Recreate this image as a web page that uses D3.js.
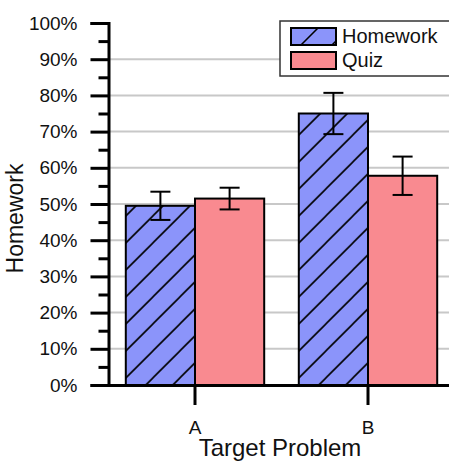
<!DOCTYPE html>
<html>
<head>
<meta charset="utf-8">
<script src="https://cdn.jsdelivr.net/npm/d3@7"></script>
<style>
  html, body { margin:0; padding:0; background:#fff; }
  svg { display:block; font-family:"Liberation Sans", Arial, sans-serif; }
</style>
</head>
<body>
<svg id="chart" width="449" height="462"></svg>
<script>
const categories = ["A","B"];
const series = ["Homework","Quiz"];
const homework = [0.495, 0.75];
const homeworkErr = [0.039, 0.057];
const quiz = [0.515, 0.578];
const quizErr = [0.030, 0.053];
const yTicks = [0,0.1,0.2,0.3,0.4,0.5,0.6,0.7,0.8,0.9,1.0];
const yMinor = [0.05,0.15,0.25,0.35,0.45,0.55,0.65,0.75,0.85,0.95];
const gridTicks = [0.1,0.2,0.3,0.4,0.5,0.6,0.7,0.8,0.9];

const COLOR = { Homework:"#8b94fa", Quiz:"#f98a90" };

const W = 449, H = 462;
const axisX = 108.5, axisY = 385;

const svg = d3.select("#chart");

const rows = categories.map((c,i)=>({
  cat:c,
  vals:[
    {s:"Homework", v:homework[i], e:homeworkErr[i]},
    {s:"Quiz", v:quiz[i], e:quizErr[i]}
  ]
}));

const y = d3.scaleLinear().domain([0,1]).range([axisY,23]);
const x = d3.scaleBand().domain(categories).range([axisX, axisX+346])
  .paddingInner(0.2).paddingOuter(0.1);
const xs = d3.scaleBand().domain(series).range([0, x.bandwidth()]);

// hatch pattern
const defs = svg.append("defs");
const pat = defs.append("pattern")
  .attr("id","hatch")
  .attr("patternUnits","userSpaceOnUse")
  .attr("width",27).attr("height",27);
pat.append("rect").attr("width",27).attr("height",27).attr("fill",COLOR.Homework);
pat.append("path")
  .attr("d","M-3,3 L3,-3 M0,27 L27,0 M24,30 L30,24")
  .attr("stroke","#000").attr("stroke-width",1.6);

// grid
svg.append("g")
  .selectAll("line")
  .data(gridTicks)
  .join("line")
  .attr("x1",axisX).attr("x2",W)
  .attr("y1",d=>y(d)).attr("y2",d=>y(d))
  .attr("stroke","#c8c8c8").attr("stroke-width",2);

// bars
const grp = svg.append("g").selectAll("g")
  .data(rows)
  .join("g")
  .attr("transform",d=>`translate(${x(d.cat)},0)`);

grp.selectAll("rect")
  .data(d=>d.vals)
  .join("rect")
  .attr("x",d=>xs(d.s))
  .attr("y",d=>y(d.v))
  .attr("width",xs.bandwidth())
  .attr("height",d=>y(0)-y(d.v))
  .attr("fill",d=>d.s==="Homework" ? "url(#hatch)" : COLOR.Quiz)
  .attr("stroke","#000").attr("stroke-width",2);

// error bars
const eb = grp.selectAll("g.err")
  .data(d=>d.vals)
  .join("g").attr("class","err")
  .attr("stroke","#000").attr("stroke-width",2);
eb.append("line")
  .attr("x1",d=>xs(d.s)+xs.bandwidth()/2).attr("x2",d=>xs(d.s)+xs.bandwidth()/2)
  .attr("y1",d=>y(d.v+d.e)).attr("y2",d=>y(d.v-d.e));
eb.append("line")
  .attr("x1",d=>xs(d.s)+xs.bandwidth()/2-10).attr("x2",d=>xs(d.s)+xs.bandwidth()/2+10)
  .attr("y1",d=>y(d.v+d.e)).attr("y2",d=>y(d.v+d.e));
eb.append("line")
  .attr("x1",d=>xs(d.s)+xs.bandwidth()/2-10).attr("x2",d=>xs(d.s)+xs.bandwidth()/2+10)
  .attr("y1",d=>y(d.v-d.e)).attr("y2",d=>y(d.v-d.e));

// y axis
const yAxis = svg.append("g")
  .attr("transform",`translate(${axisX},0)`)
  .call(d3.axisLeft(y).tickValues(yTicks).tickFormat(d3.format(".0%"))
    .tickSize(18).tickPadding(13));
yAxis.select(".domain").attr("stroke-width",3);
yAxis.selectAll(".tick line").attr("stroke-width",3);
yAxis.selectAll("text").attr("font-size",19).attr("fill","#111")
  .attr("font-family","Liberation Sans, Arial, sans-serif");

svg.append("g")
  .attr("transform",`translate(${axisX},0)`)
  .call(d3.axisLeft(y).tickValues(yMinor).tickFormat("").tickSize(10))
  .call(g=>g.select(".domain").remove())
  .selectAll(".tick line").attr("stroke-width",3);

// x axis
const xAxis = svg.append("g")
  .attr("transform",`translate(0,${axisY})`)
  .call(d3.axisBottom(x).tickSize(20).tickPadding(16).tickSizeOuter(0));
xAxis.select(".domain").attr("stroke-width",3);
xAxis.selectAll(".tick line").attr("stroke-width",3);
xAxis.selectAll("text").attr("font-size",19).attr("fill","#111")
  .attr("font-family","Liberation Sans, Arial, sans-serif");

// axis titles
svg.append("text")
  .attr("transform","translate(23,218.5) rotate(-90)")
  .attr("text-anchor","middle")
  .attr("font-size",23).attr("fill","#111")
  .text("Homework");

svg.append("text")
  .attr("x",280).attr("y",456)
  .attr("text-anchor","middle")
  .attr("font-size",24).attr("fill","#111")
  .text("Target Problem");

// legend
const lg = svg.append("g");
lg.append("rect")
  .attr("x",280).attr("y",21).attr("width",180).attr("height",55)
  .attr("fill","#fff").attr("stroke","#333").attr("stroke-width",1.5);
const li = lg.selectAll("g.li")
  .data(series)
  .join("g").attr("class","li")
  .attr("transform",(d,i)=>`translate(291,${28+i*24})`);
li.append("rect")
  .attr("width",45).attr("height",17)
  .attr("fill",d=>d==="Homework" ? COLOR.Homework : COLOR.Quiz)
  .attr("stroke","#000").attr("stroke-width",2);
li.filter(d=>d==="Homework").append("path")
  .attr("d","M10,17 L27,0 M41,17 L45,13")
  .attr("stroke","#000").attr("stroke-width",1.6);
li.append("text")
  .attr("x",51).attr("y",15)
  .attr("font-size",20).attr("fill","#111")
  .text(d=>d);
</script>
</body>
</html>
